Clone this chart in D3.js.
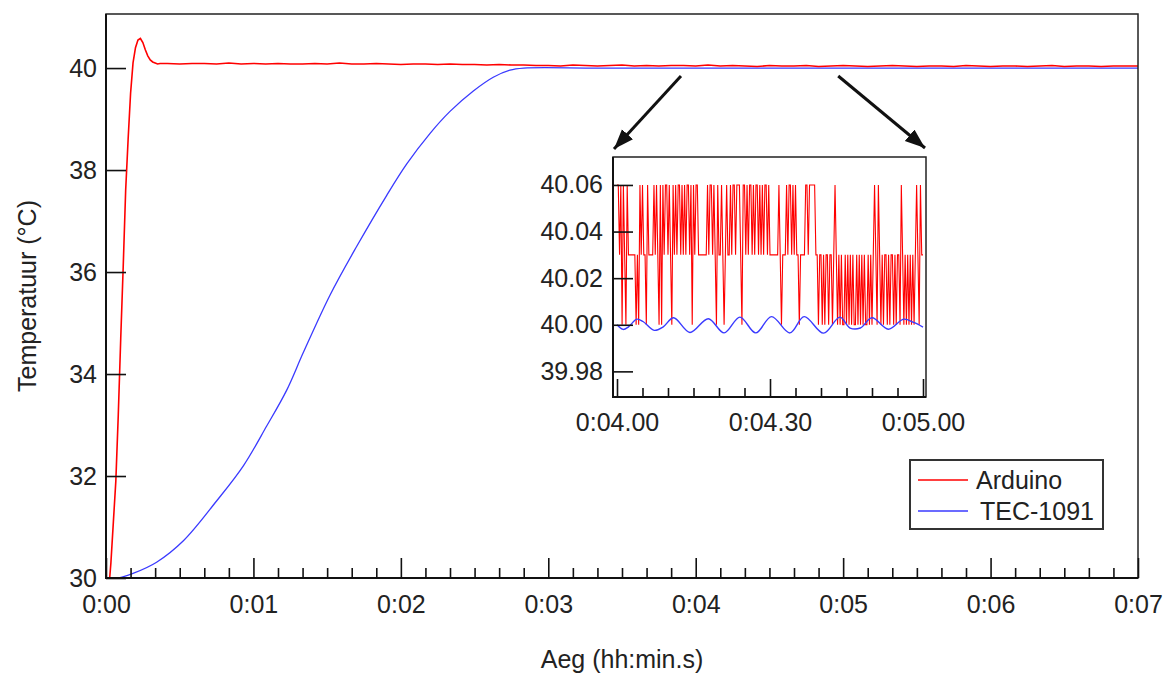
<!DOCTYPE html>
<html><head><meta charset="utf-8">
<script src="https://cdn.jsdelivr.net/npm/d3@7"></script>
<style>
html,body{margin:0;padding:0;background:#fff;}
svg text{font-family:"Liberation Sans",Arial,sans-serif;fill:#222;}
</style></head>
<body><svg id="chart" width="1169" height="676"></svg>
<script>
// ---------- DATA ----------
// main chart: time in seconds, temperature in °C
const redEarlyT = [0,1.5,2,3,4,5,6,7,8,9,10,11,12,13,14,15,16,17,18,19,20,21,22];
const redEarlyV = [30.0,30.0,30.3,31.1,31.9,33.2,34.7,36.1,37.6,38.6,39.5,40.1,40.4,40.55,40.58,40.5,40.36,40.24,40.16,40.12,40.1,40.08,40.09];
// Arduino after settling, sampled every 5 s from 25 s
const redLateStart = 25, redLateStep = 5;
const redLateV = [40.09,40.08,40.09,40.09,40.08,40.10,40.08,40.09,40.08,40.09,40.08,40.08,40.09,40.08,40.10,40.08,40.08,40.09,40.08,40.07,40.08,40.08,40.07,40.08,40.07,40.07,40.06,40.07,40.06,40.06,40.05,
  40.05,40.04,40.06,40.05,40.04,40.05,40.06,40.04,40.05,40.04,40.05,40.05,40.04,40.06,40.04,40.05,40.04,40.03,40.05,40.04,40.04,40.05,40.03,40.04,40.05,40.04,40.03,40.04,40.05,40.04,40.03,40.04,40.04,40.03,40.05,40.04,40.03,40.04,40.04,40.03,40.04,40.05,40.03,40.04,40.04,40.03,40.04,40.04,40.04];
const blueT = [0,5,11,20.6,31.5,45,55.9,65.4,73.5,80.3,91.2,102,114.2,122.4,131.9,140,149.5,157.6,164.4,170,200,250,300,350,420];
const blueV = [30.0,30.0,30.09,30.31,30.73,31.51,32.2,32.98,33.68,34.42,35.55,36.5,37.5,38.12,38.72,39.15,39.55,39.82,39.96,40.0,40.0,40.0,40.0,40.0,40.0];
// inset (0:04.00 – 0:05.00): Arduino quantised readings every 0.25 s (index into insetLevels)
const insetLevels = [40.00, 40.03, 40.06];
const insetStart = 240, insetStep = 0.25;
const insetRedCodes = [
  2,2,1,2,0,2,1,0,2,1,1,
  1,1,1,1,0,1,0,2,1,2,1,1,0,2,1,1,1,1,
  2,1,2,1,0,2,0,2,1,2, 2,1,2,1,0,2,1,2,1,2, 2,1,2,1,2,1,2,2,1,2, 0,2,1,2,2,1,1,
  1,1,1,1,1,
  2,1,2,2,1,2,1,0,
  2,1,1,2,1,0,1,2,1,1,2,1,
  2,2,1,2,2,2,1,0,2,2,1,2,1,2,2,1,2,1,2,2,1,2,1,2,1,2,2,1,2,1,1,
  1,1,1,1,1,2,1,0,1,1,1,
  2,1,2,2,1,2,1,2,1,
  1,0,1,1,1,1,
  2,2,1,2,2,2,2,2,1,
  1,0,1,1,0,1,0,1,1,0,1,1,0,1,2,1,
  0,1,0,1,0,0,1,0,1,0,1,0,1,0,0,1,0,1,0,1,0,1,0,0,1,0,1,0,1,2,
  1,0,2,1,0,1,0,1,1,0,1,0,1,1,0,1,0,1,
  1,0,2,1,0,1,0,1,0,1,0,1,0,1,2,1,0,2,1,1];
const insetBlueT = [240,241.2,242.2,243.9,245.1,247.3,249.0,251.1,254.3,257.9,261.0,264.1,267.2,270.3,273.9,276.7,280.5,283.7,285.7,287.7,290.0,293.2,296.2,298.2,300];
const insetBlueV = [40.000,39.998,39.999,40.0024,40.0014,39.9976,39.999,40.003,39.9967,40.0026,39.9965,40.0033,39.9965,40.0035,39.9965,40.0035,39.9964,40.0033,39.9986,39.9986,40.003,39.9981,40.0024,40.001,39.999];
// ticks & labels
const mainXMajor = [0,60,120,180,240,300,360,420];
const mainXLabels = ["0:00","0:01","0:02","0:03","0:04","0:05","0:06","0:07"];
const mainYTicks = [30,32,34,36,38,40];
const insetXMajor = [240,270,300];
const insetXLabels = ["0:04.00","0:04.30","0:05.00"];
const insetYTicks = [39.98,40.00,40.02,40.04,40.06];
const seriesNames = ["Arduino","TEC-1091"];
const seriesColors = ["#ff0000","#3a3aff"];

// ---------- BUILD ----------
const svg = d3.select("#chart");
const FS = 25;
const x = d3.scaleLinear().domain([0,420]).range([106,1138]);
const y = d3.scaleLinear().domain([30,41.06]).range([578,14]);

const redMain = redEarlyT.map((t,i)=>[t,redEarlyV[i]])
  .concat(redLateV.map((v,i)=>[redLateStart+i*redLateStep, v]));
const blueMain = blueT.map((t,i)=>[t,blueV[i]]);

const defs = svg.append("defs");
defs.append("clipPath").attr("id","mainclip").append("rect")
  .attr("x",106).attr("y",14).attr("width",1032).attr("height",564);

function styleAxis(g){
  g.select(".domain").remove();
  g.selectAll(".tick line").attr("stroke","#111").attr("stroke-width",1.6);
  g.selectAll(".tick text").attr("font-size",FS).attr("font-family","Liberation Sans, Arial").attr("fill","#222");
}

// main lines
svg.append("path").datum(blueMain)
  .attr("d", d3.line().x(d=>x(d[0])).y(d=>y(d[1])).curve(d3.curveCatmullRom.alpha(0.5)))
  .attr("fill","none").attr("stroke",seriesColors[1]).attr("stroke-width",1.3)
  .attr("clip-path","url(#mainclip)");
svg.append("path").datum(redMain).attr("d",d3.line().x(d=>x(d[0])).y(d=>y(d[1])))
  .attr("fill","none").attr("stroke",seriesColors[0]).attr("stroke-width",1.6)
  .attr("clip-path","url(#mainclip)");

// main frame
svg.append("rect").attr("x",106).attr("y",14).attr("width",1032).attr("height",564)
  .attr("fill","none").attr("stroke","#222").attr("stroke-width",1.5);
svg.append("path").attr("d","M106,14V578H1138").attr("fill","none").attr("stroke","#111").attr("stroke-width",2);

// main axes
const minorX = d3.range(0,421,10).filter(v=>v%60!==0);
svg.append("g").attr("transform","translate(0,578)")
  .call(d3.axisBottom(x).tickValues(mainXMajor).tickSizeInner(-20).tickSizeOuter(0).tickPadding(17)
  .tickFormat((d,i)=>mainXLabels[i])).call(styleAxis);
svg.append("g").attr("transform","translate(0,578)")
  .call(d3.axisBottom(x).tickValues(minorX).tickSizeInner(-10).tickSizeOuter(0).tickFormat("")).call(styleAxis);
svg.append("g").attr("transform","translate(106,0)")
  .call(d3.axisLeft(y).tickValues(mainYTicks).tickSizeInner(-20).tickSizeOuter(0).tickPadding(9)
  .tickFormat(d3.format("d"))).call(styleAxis);

// axis titles
svg.append("text").attr("x",622).attr("y",668).attr("text-anchor","middle")
  .attr("font-size",FS).text("Aeg (hh:min.s)");
svg.append("text").attr("transform","translate(27,296) rotate(-90)").attr("text-anchor","middle")
  .attr("dy","0.35em").attr("font-size",FS).text("Temperatuur (°C)");

// ---------- INSET ----------
const xi = d3.scaleLinear().domain([240,300]).range([617,923]);
const yi = d3.scaleLinear().domain([39.969,40.072]).range([397,157]);
const IL=613, IR=926, IT=157, IB=397;
defs.append("clipPath").attr("id","insetclip").append("rect")
  .attr("x",IL).attr("y",IT).attr("width",IR-IL).attr("height",IB-IT);
svg.append("rect").attr("x",IL).attr("y",IT).attr("width",IR-IL).attr("height",IB-IT).attr("fill","#fff");

const insetRed = insetRedCodes.map((c,i)=>[insetStart+i*insetStep, insetLevels[c]]);
const insetBlue = insetBlueT.map((t,i)=>[t,insetBlueV[i]]);
svg.append("path").datum(insetRed)
  .attr("d", d3.line().x(d=>xi(d[0])).y(d=>yi(d[1])))
  .attr("fill","none").attr("stroke",seriesColors[0]).attr("stroke-width",1.1)
  .attr("clip-path","url(#insetclip)");
svg.append("path").datum(insetBlue)
  .attr("d", d3.line().x(d=>xi(d[0])).y(d=>yi(d[1])).curve(d3.curveCatmullRom))
  .attr("fill","none").attr("stroke",seriesColors[1]).attr("stroke-width",1.4)
  .attr("clip-path","url(#insetclip)");
svg.append("rect").attr("x",IL).attr("y",IT).attr("width",IR-IL).attr("height",IB-IT)
  .attr("fill","none").attr("stroke","#222").attr("stroke-width",1.5);
svg.append("path").attr("d",`M${IL},${IT}V${IB}H${IR}`).attr("fill","none").attr("stroke","#111").attr("stroke-width",2);

svg.append("g").attr("transform",`translate(0,${IB})`)
  .call(d3.axisBottom(xi).tickValues(insetXMajor).tickSizeInner(-18).tickSizeOuter(0).tickPadding(16)
  .tickFormat((d,i)=>insetXLabels[i])).call(styleAxis);
svg.append("g").attr("transform",`translate(0,${IB})`)
  .call(d3.axisBottom(xi).tickValues(d3.range(245,300,5).filter(v=>v!==270))
  .tickSizeInner(-9).tickSizeOuter(0).tickFormat("")).call(styleAxis);
svg.append("g").attr("transform",`translate(${IL},0)`)
  .call(d3.axisLeft(yi).tickValues(insetYTicks).tickSizeInner(-20).tickSizeOuter(0).tickPadding(10)
  .tickFormat(d3.format(".2f"))).call(styleAxis);

// arrows
defs.append("marker").attr("id","arrow").attr("markerUnits","userSpaceOnUse")
  .attr("markerWidth",22).attr("markerHeight",16).attr("refX",20).attr("refY",7.5)
  .attr("orient","auto").append("path").attr("d","M0,0L20,7.5L0,15Z").attr("fill","#111");
const arrows = [[x(234), 76, IL+1, IT-8],[x(298), 76, IR-1, IT-9]];
svg.selectAll("line.arrow").data(arrows).join("line").attr("class","arrow")
  .attr("x1",d=>d[0]).attr("y1",d=>d[1]).attr("x2",d=>d[2]).attr("y2",d=>d[3])
  .attr("stroke","#111").attr("stroke-width",3).attr("marker-end","url(#arrow)");

// ---------- LEGEND ----------
const lg = svg.append("g");
lg.append("rect").attr("x",910).attr("y",460).attr("width",193).attr("height",69)
  .attr("fill","#fff").attr("stroke","#333").attr("stroke-width",2);
seriesNames.forEach((n,i)=>{
  const yy = 480 + i*31;
  lg.append("line").attr("x1",918).attr("x2",968).attr("y1",yy).attr("y2",yy)
    .attr("stroke",seriesColors[i]).attr("stroke-width",1.5);
  lg.append("text").attr("x",976 + i*4).attr("y",yy+9).attr("font-size",FS).text(n);
});
</script></body></html>
